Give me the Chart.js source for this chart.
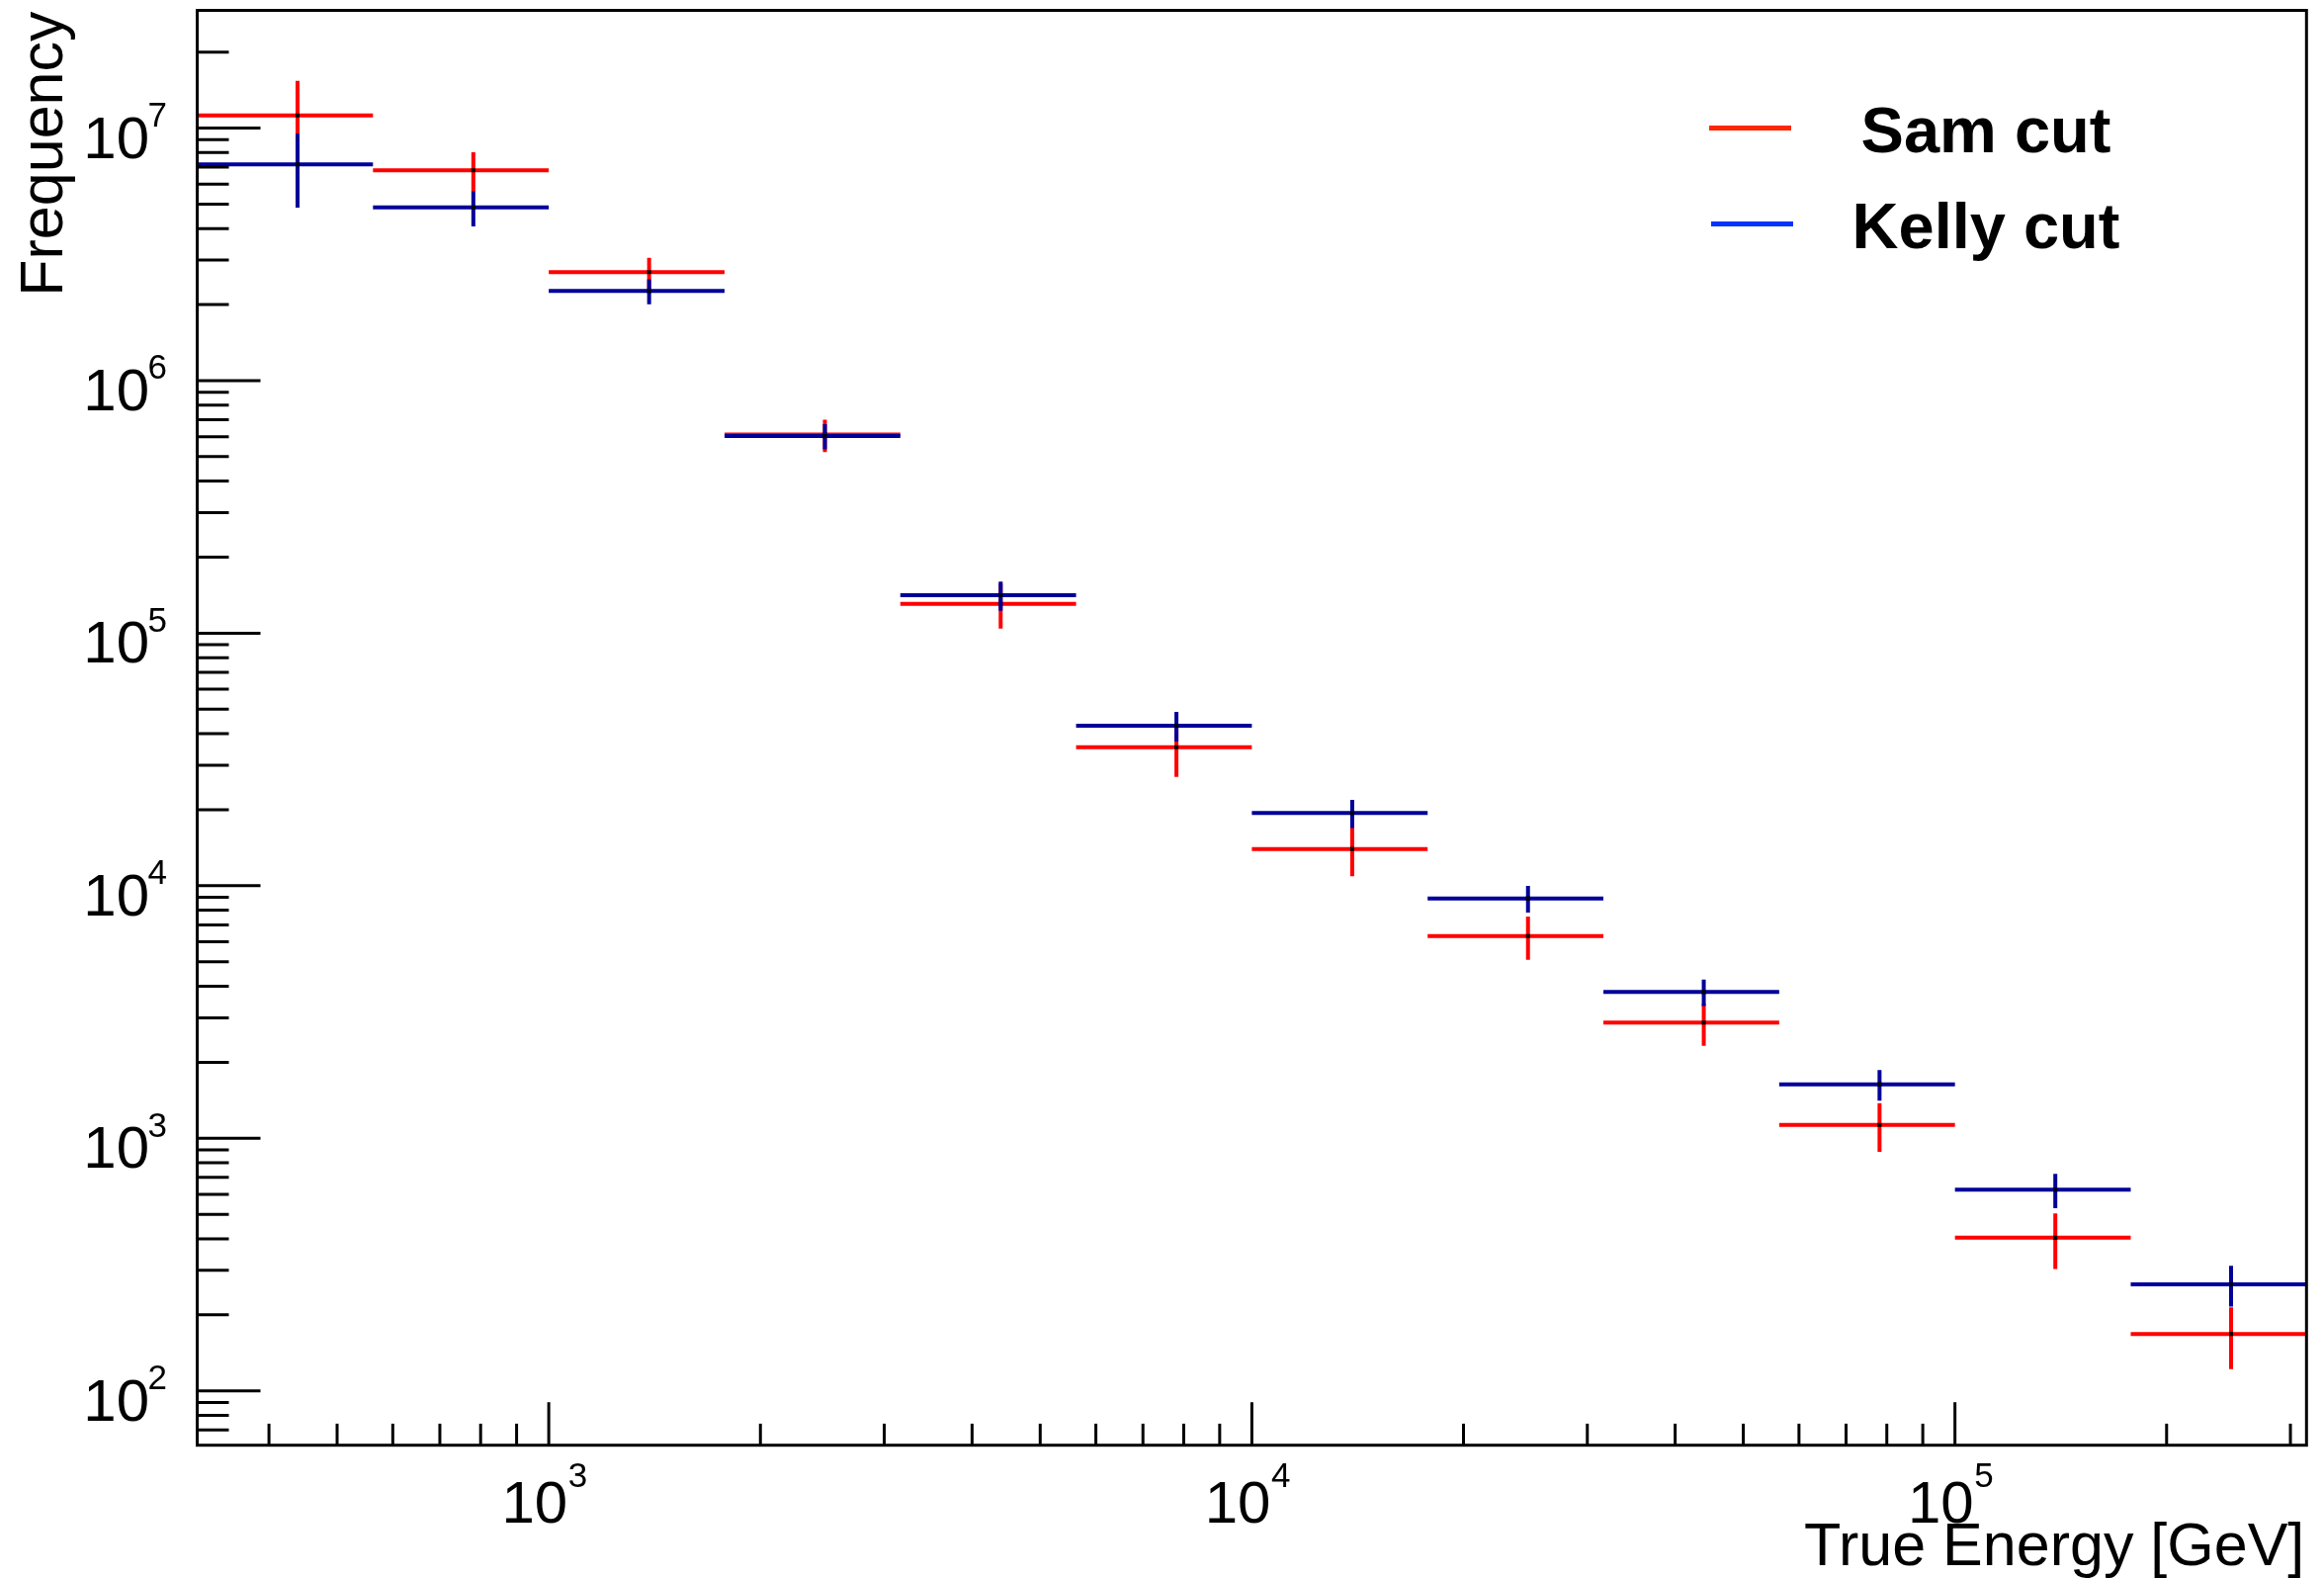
<!DOCTYPE html>
<html>
<head>
<meta charset="utf-8">
<script src="https://cdn.jsdelivr.net/npm/chart.js@4.4.1/dist/chart.umd.min.js"></script>
<style>
  html, body { margin: 0; padding: 0; background: #ffffff; }
  #wrap { position: relative; width: 2351px; height: 1596px; }
  canvas { display: block; }
</style>
</head>
<body>
<div id="wrap"><canvas id="chart" width="2351" height="1596"></canvas></div>
<script>
// ---------------- data ----------------
const binEdges = [316.23, 562.34, 1000, 1778.28, 3162.28, 5623.41, 10000, 17782.8, 31622.8, 56234.1, 100000, 177828, 316228];

const seriesLabels = ['Sam cut', 'Kelly cut'];

const samValues  = [1.122e7, 6.80e6, 2.687e6, 6.11e5, 1.307e5, 3.536e4, 1.398e4, 6.32e3, 2.87e3, 1.13e3, 404, 168];
const samErrors  = [4.17e6, 1.22e6, 3.78e5, 9.0e4, 2.64e4, 8.37e3, 3.08e3, 1.23e3, 545, 246, 100, 46];

const kellyValues = [7.18e6, 4.85e6, 2.263e6, 6.03e5, 1.413e5, 4.30e4, 1.94e4, 8.91e3, 3.795e3, 1.636e3, 626, 264];
const kellyErrors = [2.34e6, 7.7e5, 2.57e5, 6.9e4, 1.86e4, 5.8e3, 2.48e3, 1.08e3, 457, 227, 97, 48.5];

const xTickExponents = [3, 4, 5];
const yTickExponents = [2, 3, 4, 5, 6, 7];

const xAxisTitle = 'True Energy [GeV]';
const yAxisTitle = 'Frequency';

const xMin = 316.228, xMax = 316228;
const yMin = 60.92, yMax = 2.924e7;

// ---------------- styles ----------------
const samColor = '#ff0000';
const kellyColor = '#000099';
const legendColors = ['#ff2600', '#0433ff'];
const FONT = '"Liberation Sans", Arial, Helvetica, sans-serif';

// Build crosses (horizontal bin width + vertical error) as line segments separated by gaps
function buildSegments(values, errors) {
  const pts = [];
  for (let i = 0; i < values.length; i++) {
    const lo = binEdges[i], hi = binEdges[i + 1];
    const c = (lo + hi) / 2;
    const v = values[i], e = errors[i];
    pts.push({x: lo, y: v}, {x: hi, y: v}, {x: c, y: null});
    pts.push({x: c, y: v - e}, {x: c, y: v, m: 1}, {x: c, y: v + e}, {x: c, y: null});
  }
  return pts;
}

function makeDataset(label, values, errors, color, order) {
  return {
    label: label,
    data: buildSegments(values, errors),
    borderColor: color,
    borderWidth: 4,
    borderCapStyle: 'butt',
    fill: false,
    spanGaps: false,
    tension: 0,
    order: order,
    pointStyle: 'rect',
    pointRadius: ctx => (ctx.raw && ctx.raw.m ? 2.9 : 0),
    pointHoverRadius: 0,
    pointBackgroundColor: '#000000',
    pointBorderWidth: 0
  };
}

// ROOT-like frame, inward ticks, tick labels, titles and legend
const rootFrame = {
  id: 'rootFrame',
  afterDraw(chart) {
    const ctx = chart.ctx;
    const a = chart.chartArea;
    const xs = chart.scales.x, ys = chart.scales.y;
    ctx.save();
    ctx.strokeStyle = '#000';
    ctx.fillStyle = '#000';
    ctx.lineCap = 'butt';

    // frame
    ctx.lineWidth = 3;
    ctx.strokeRect(a.left, a.top, a.right - a.left, a.bottom - a.top);

    // y ticks (inward from left)
    const yLo = Math.floor(Math.log10(yMin)), yHi = Math.ceil(Math.log10(yMax));
    for (let e = yLo; e <= yHi; e++) {
      for (let m = 1; m <= 9; m++) {
        const v = m * Math.pow(10, e);
        if (v < yMin || v > yMax) continue;
        const py = ys.getPixelForValue(v);
        const len = m === 1 ? 64 : 32;
        ctx.beginPath(); ctx.moveTo(a.left, py); ctx.lineTo(a.left + len, py); ctx.stroke();
      }
    }
    // x ticks (inward from bottom)
    const xLo = Math.floor(Math.log10(xMin)), xHi = Math.ceil(Math.log10(xMax));
    for (let e = xLo; e <= xHi; e++) {
      for (let m = 1; m <= 9; m++) {
        const v = m * Math.pow(10, e);
        if (v < xMin || v > xMax) continue;
        const px = xs.getPixelForValue(v);
        const len = m === 1 ? 43.5 : 21.8;
        ctx.beginPath(); ctx.moveTo(px, a.bottom); ctx.lineTo(px, a.bottom - len); ctx.stroke();
      }
    }

    const baseFont = '60px ' + FONT;
    const expFont = '35px ' + FONT;
    ctx.textBaseline = 'alphabetic';

    // y tick labels
    yTickExponents.forEach(e => {
      const py = ys.getPixelForValue(Math.pow(10, e));
      ctx.font = baseFont; ctx.textAlign = 'right';
      ctx.fillText('10', a.left - 48.5, py + 30);
      ctx.font = expFont; ctx.textAlign = 'left';
      ctx.fillText(String(e), a.left - 50, py - 1.5);
    });

    // x tick labels
    xTickExponents.forEach(e => {
      const px = xs.getPixelForValue(Math.pow(10, e));
      ctx.font = baseFont; ctx.textAlign = 'right';
      ctx.fillText('10', px + 19, a.bottom + 78.3);
      ctx.font = expFont; ctx.textAlign = 'left';
      ctx.fillText(String(e), px + 19.5, a.bottom + 42);
    });

    // axis titles
    ctx.font = '61px ' + FONT;
    ctx.textAlign = 'right';
    ctx.fillText(xAxisTitle, a.right - 2, 1583);
    ctx.save();
    ctx.translate(63, a.top + 1);
    ctx.rotate(-Math.PI / 2);
    ctx.textAlign = 'right';
    ctx.fillText(yAxisTitle, 0, 0);
    ctx.restore();

    // legend
    const rows = [129.5, 226.5];
    ctx.font = 'bold 65px ' + FONT;
    ctx.textAlign = 'center';
    seriesLabels.forEach((lab, i) => {
      ctx.strokeStyle = legendColors[i];
      ctx.lineWidth = 5;
      ctx.beginPath(); ctx.moveTo(1729 + i * 2, rows[i]); ctx.lineTo(1812 + i * 2, rows[i]); ctx.stroke();
      ctx.fillStyle = '#000';
      ctx.fillText(lab, 2009, rows[i] + 24);
    });
    ctx.restore();
  }
};

new Chart(document.getElementById('chart'), {
  type: 'line',
  data: {
    datasets: [
      makeDataset(seriesLabels[0], samValues, samErrors, samColor, 1),
      makeDataset(seriesLabels[1], kellyValues, kellyErrors, kellyColor, 0)
    ]
  },
  options: {
    responsive: false,
    animation: false,
    devicePixelRatio: 1,
    layout: { padding: { left: 199.5, top: 10.5, right: 17.7, bottom: 134.3 } },
    scales: {
      x: { type: 'logarithmic', min: xMin, max: xMax, display: false },
      y: { type: 'logarithmic', min: yMin, max: yMax, display: false }
    },
    plugins: {
      legend: { display: false },
      tooltip: { enabled: false }
    },
    events: []
  },
  plugins: [rootFrame]
});
</script>
</body>
</html>
